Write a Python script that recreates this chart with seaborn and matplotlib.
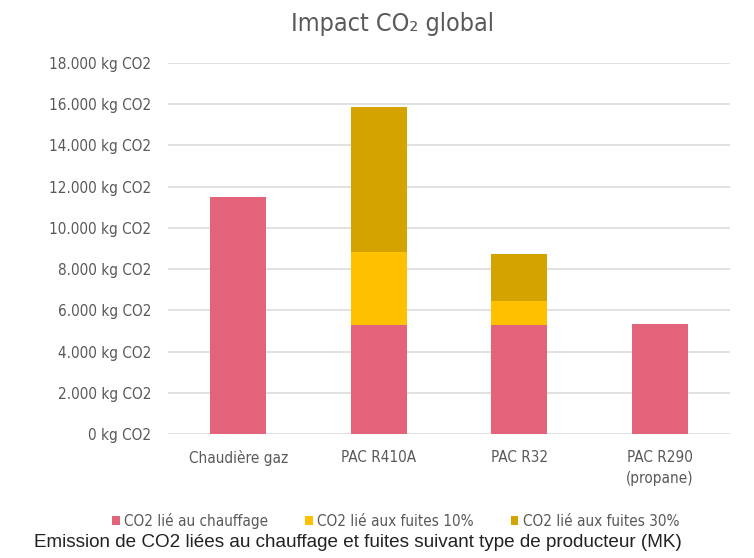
import matplotlib
matplotlib.use("Agg")
import matplotlib.pyplot as plt
from matplotlib import font_manager
from matplotlib.patches import Patch
from matplotlib.ticker import FuncFormatter, MultipleLocator
import seaborn as sns
import pandas as pd

# Data (kg CO2)
categories = ["Chaudière gaz", "PAC R410A", "PAC R32", "PAC R290\n(propane)"]
co2_chauffage = [11500, 5300, 5300, 5320]
co2_fuites_10 = [0, 3540, 1170, 0]
co2_fuites_30 = [0, 7030, 2240, 0]
series_labels = ["CO2 lié au chauffage", "CO2 lié aux fuites 10%", "CO2 lié aux fuites 30%"]
series_colors = ["#E3637A", "#FFC000", "#D5A300"]

sns.set_theme(style="white")

# narrow face for the chart texts, when a condensed DejaVu is installed
cond_path = font_manager.findfont(
    font_manager.FontProperties(family="DejaVu Sans", stretch="condensed"))
if "Condensed" in cond_path:
    plt.rcParams["font.family"] = ["DejaVu Sans", "Noto Sans"]
    plt.rcParams["font.stretch"] = "condensed"
else:
    plt.rcParams["font.family"] = ["Roboto", "DejaVu Sans"]
grey = "#595959"

df = pd.DataFrame({
    "categorie": categories,
    "chauffage": co2_chauffage,
    "fuites10": co2_fuites_10,
    "fuites30": co2_fuites_30,
})
df["niv1"] = df["chauffage"]
df["niv2"] = df["niv1"] + df["fuites10"]
df["niv3"] = df["niv2"] + df["fuites30"]

fig = plt.figure(figsize=(7.54, 5.58), dpi=100)
ax = fig.add_axes([0.2228, 0.2217, 0.7454, 0.666])

# stacked bars: draw cumulative totals back to front
for col, color in zip(["niv3", "niv2", "niv1"], series_colors[::-1]):
    sns.barplot(data=df, x="categorie", y=col, color=color, width=0.4,
                saturation=1, ax=ax, zorder=3, linewidth=0)

ax.set_ylim(0, 18000)
ax.set_xlim(-0.5, 3.5)
ax.yaxis.set_major_locator(MultipleLocator(2000))
ax.yaxis.set_major_formatter(FuncFormatter(
    lambda v, p: f"{int(v):,} kg CO2".replace(",", ".")))
ax.grid(axis="y", color="#D9D9D9", linewidth=1.1, zorder=0)
ax.grid(axis="x", visible=False)
for s in ax.spines.values():
    s.set_visible(False)
ax.set_xlabel("")
ax.set_ylabel("")
ax.tick_params(axis="y", length=0, pad=12, labelsize=11, labelcolor=grey)
ax.tick_params(axis="x", length=0, pad=11, labelsize=11, labelcolor=grey)
for lab in ax.get_xticklabels():
    lab.set_linespacing(1.55)
    lab.set_verticalalignment("top")

fig.text(0.52, 0.957, "Impact CO\u2082 global", ha="center", va="center",
         fontsize=18, color=grey)

handles = [Patch(facecolor=c, edgecolor="none") for c in series_colors]
fig.legend(handles, series_labels, loc="center", bbox_to_anchor=(0.525, 0.066),
           ncol=3, frameon=False, fontsize=11, labelcolor=grey,
           handlelength=0.5, handleheight=0.5, handletextpad=0.3,
           columnspacing=2.4)

fig.text(0.475, 0.027, "Emission de CO2 liées au chauffage et fuites suivant type de producteur (MK)",
         ha="center", va="center", fontsize=13.6, color="#222222",
         family=["Liberation Sans", "DejaVu Sans"], fontstretch="normal")

fig.savefig("out.png", dpi=100, facecolor="white")
